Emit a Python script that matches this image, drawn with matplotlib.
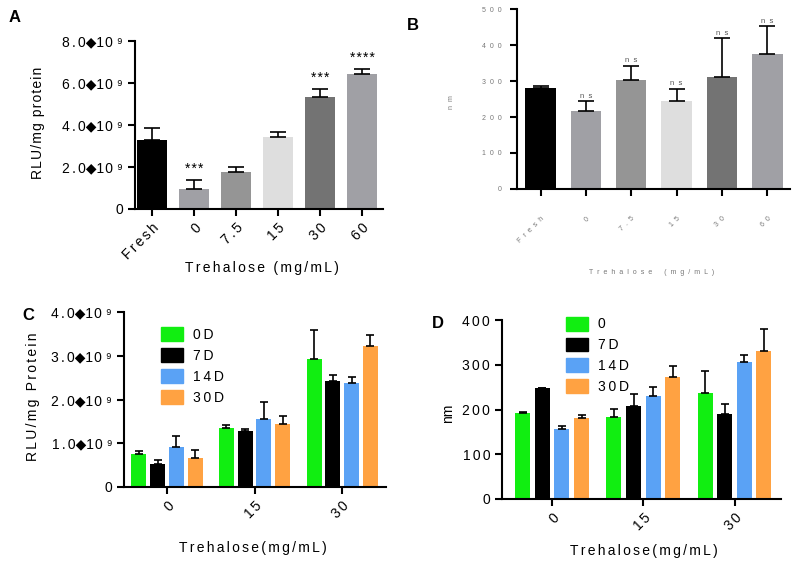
import matplotlib

matplotlib.use("Agg")
import matplotlib.pyplot as plt
from matplotlib.patches import Patch
import numpy as np

plt.rcParams["font.family"] = ["Liberation Sans", "DejaVu Sans"]

# Panel A: luciferase activity (x1e9 RLU/mg protein)
a_labels = ["Fresh", "0", "7.5", "15", "30", "60"]
a_means = [3.29, 0.94, 1.76, 3.41, 5.35, 6.44]
a_errs = [0.57, 0.44, 0.25, 0.27, 0.35, 0.21]
a_stars = ["", "***", "", "", "***", "****"]
a_ticks = [0, 2, 4, 6, 8]

# Panel B: particle size (nm)
b_labels = ["Fresh", "0", "7.5", "15", "30", "60"]
b_means = [280, 216, 303, 244, 312, 374]
b_errs = [7, 28, 40, 35, 107, 78]
b_notes = ["", "ns", "ns", "ns", "ns", "ns"]
b_ticks = [0, 100, 200, 300, 400, 500]

bar_greys = ["#000000", "#a0a0a5", "#959595", "#dedede", "#737373", "#a0a0a5"]

# Panels C/D: storage time series
groups = ["0", "15", "30"]
c_series = ["0D", "7D", "14D", "30D"]
c_means = {
    "0D": [0.75, 1.36, 2.92],
    "7D": [0.52, 1.27, 2.42],
    "14D": [0.91, 1.55, 2.38],
    "30D": [0.67, 1.44, 3.23],
}
c_errs = {
    "0D": [0.08, 0.06, 0.68],
    "7D": [0.09, 0.05, 0.14],
    "14D": [0.25, 0.40, 0.13],
    "30D": [0.17, 0.19, 0.24],
}
c_ticks = [0, 1, 2, 3, 4]

d_series = ["0", "7D", "14D", "30D"]
d_means = {
    "0": [192, 184, 237],
    "7D": [247, 208, 191],
    "14D": [157, 231, 306],
    "30D": [181, 272, 331],
}
d_errs = {
    "0": [3, 17, 48],
    "7D": [0, 27, 22],
    "14D": [6, 20, 15],
    "30D": [7, 26, 49],
}
d_ticks = [0, 100, 200, 300, 400]

series_colors = ["#11ee11", "#000000", "#5aa2f5", "#ffa242"]

W, H = 800, 567
GAP = "\u2006"  # six-per-em space, mimics Prism letter spacing
TINY = "#777777"


def sp(s, gap=GAP):
    return gap.join(s)


def wide(s):
    # panel B text is drawn with very loose letter spacing
    return "  ".join(s)


def rect(left, top, right, bottom):
    return [left / W, 1 - bottom / H, (right - left) / W, (bottom - top) / H]


def ftext(fig, x, y, s, **kw):
    fig.text(x / W, 1 - y / H, s, **kw)


def style(ax, lw=1.5):
    for side in ("top", "right"):
        ax.spines[side].set_visible(False)
    for side in ("left", "bottom"):
        ax.spines[side].set_linewidth(lw)
    ax.tick_params(length=5, width=lw, direction="out")


def sci(v):
    return "0" if v == 0 else sp(f"{v:.1f}") + "\u25c6" + "\u200a".join("10") + " \u2079"


fig = plt.figure(figsize=(W / 100, H / 100), dpi=100)

# ---- A ----
ax = fig.add_axes(rect(135, 41, 383, 209))
x = np.arange(len(a_labels))
ax.bar(x, a_means, width=0.71, color=bar_greys)
ax.errorbar(x, a_means, yerr=[np.zeros(len(x)), a_errs], fmt="none",
            ecolor="black", elinewidth=1.2, capsize=6, capthick=1.2)
for xi, m, e, s in zip(x, a_means, a_errs, a_stars):
    if s:
        ax.text(xi, m + e + 0.2, sp(s, "\u200a"), ha="center", va="bottom", fontsize=10)
ax.set_xlim(-0.4, 5.5)
ax.set_ylim(0, 8)
ax.set_yticks(a_ticks, [sci(v) for v in a_ticks], fontsize=10)
ax.set_xticks(x, [sp(t) for t in a_labels], fontsize=10, rotation=45,
              ha="right", rotation_mode="anchor")
style(ax)
ftext(fig, 38, 123, sp("RLU/mg protein", "\u200a"), rotation=90, ha="center", va="center", fontsize=10)
ftext(fig, 262, 268, sp("Trehalose (mg/mL)"), ha="center", va="center", fontsize=10)
ftext(fig, 15, 17, "A", ha="center", va="center", fontsize=12, fontweight="bold")

# ---- B ----
ax = fig.add_axes(rect(517, 9, 790, 189))
x = np.arange(len(b_labels))
ax.bar(x, b_means, width=0.67, color=bar_greys)
ax.errorbar(x, b_means, yerr=[np.zeros(len(x)), b_errs], fmt="none",
            ecolor="black", elinewidth=1.2, capsize=6, capthick=1.2)
for xi, m, e, s in zip(x, b_means, b_errs, b_notes):
    if s:
        ax.text(xi, m + e + 3, wide(s), ha="center", va="bottom",
                fontsize=5.5, color="#555555")
ax.set_xlim(-0.52, 5.5)
ax.set_ylim(0, 500)
ax.set_yticks(b_ticks, [wide(str(v)) for v in b_ticks], fontsize=5, color=TINY)
ax.set_xticks(x, [wide(t) for t in b_labels], fontsize=5, color=TINY,
              rotation=45, ha="right", rotation_mode="anchor")
style(ax)
ax.tick_params(axis="y", pad=6)
ax.tick_params(axis="x", pad=14)
ftext(fig, 452, 102, wide("nm"), rotation=90, ha="center", va="center", fontsize=5, color=TINY)
ftext(fig, 652, 272, wide("Trehalose") + "      " + wide("(mg/mL)"),
      ha="center", va="center", fontsize=5, color=TINY)
ftext(fig, 413, 25, "B", ha="center", va="center", fontsize=12, fontweight="bold")


def grouped(ax, series, means, errs, width, step):
    xg = np.arange(len(groups))
    n = len(series)
    for i, (name, col) in enumerate(zip(series, series_colors)):
        xs = xg + (i - (n - 1) / 2) * step
        ax.bar(xs, means[name], width=width, color=col)
        ax.errorbar(xs, means[name], yerr=[np.zeros(len(xs)), errs[name]], fmt="none",
                    ecolor="black", elinewidth=1.2, capsize=2.8, capthick=1.2)
    ax.set_xticks(xg, [sp(g) for g in groups], fontsize=10, rotation=45,
                  ha="right", rotation_mode="anchor")
    return [Patch(color=c) for c in series_colors]


legend_kw = dict(loc="upper left", borderaxespad=0, borderpad=0, frameon=False,
                 handlelength=1.58, handleheight=1.15, labelspacing=0.45,
                 handletextpad=0.7, fontsize=10)

# ---- C ----
ax = fig.add_axes(rect(124, 312, 386, 487))
handles = grouped(ax, c_series, c_means, c_errs, 0.171, 0.214)
ax.set_xlim(-0.49, 2.5)
ax.set_ylim(0, 4)
ax.set_yticks(c_ticks, [sci(v) for v in c_ticks], fontsize=10)
style(ax)
ax.legend(handles, [sp(s, "\u2009") for s in c_series],
          bbox_to_anchor=(0.141, 0.912), **legend_kw)
ftext(fig, 33, 397, sp("RLU/mg Protein"), rotation=90, ha="center", va="center", fontsize=10)
ftext(fig, 253, 548, sp("Trehalose(mg/mL)"), ha="center", va="center", fontsize=10)
ftext(fig, 28, 316, "C", ha="center", va="center", fontsize=12, fontweight="bold")

# ---- D ----
ax = fig.add_axes(rect(502, 320, 781, 499))
handles = grouped(ax, d_series, d_means, d_errs, 0.164, 0.215)
ax.set_xlim(-0.55, 2.51)
ax.set_ylim(0, 400)
ax.set_yticks(d_ticks, [sp(str(v)) for v in d_ticks], fontsize=10)
style(ax)
ax.legend(handles, [sp(s, "\u2009") for s in d_series],
          bbox_to_anchor=(0.229, 1.018), **legend_kw)
ftext(fig, 448, 413, "nm", rotation=90, ha="center", va="center", fontsize=10)
ftext(fig, 644, 551, sp("Trehalose(mg/mL)"), ha="center", va="center", fontsize=10)
ftext(fig, 438, 323, "D", ha="center", va="center", fontsize=12, fontweight="bold")

fig.savefig("out.png", dpi=100)
